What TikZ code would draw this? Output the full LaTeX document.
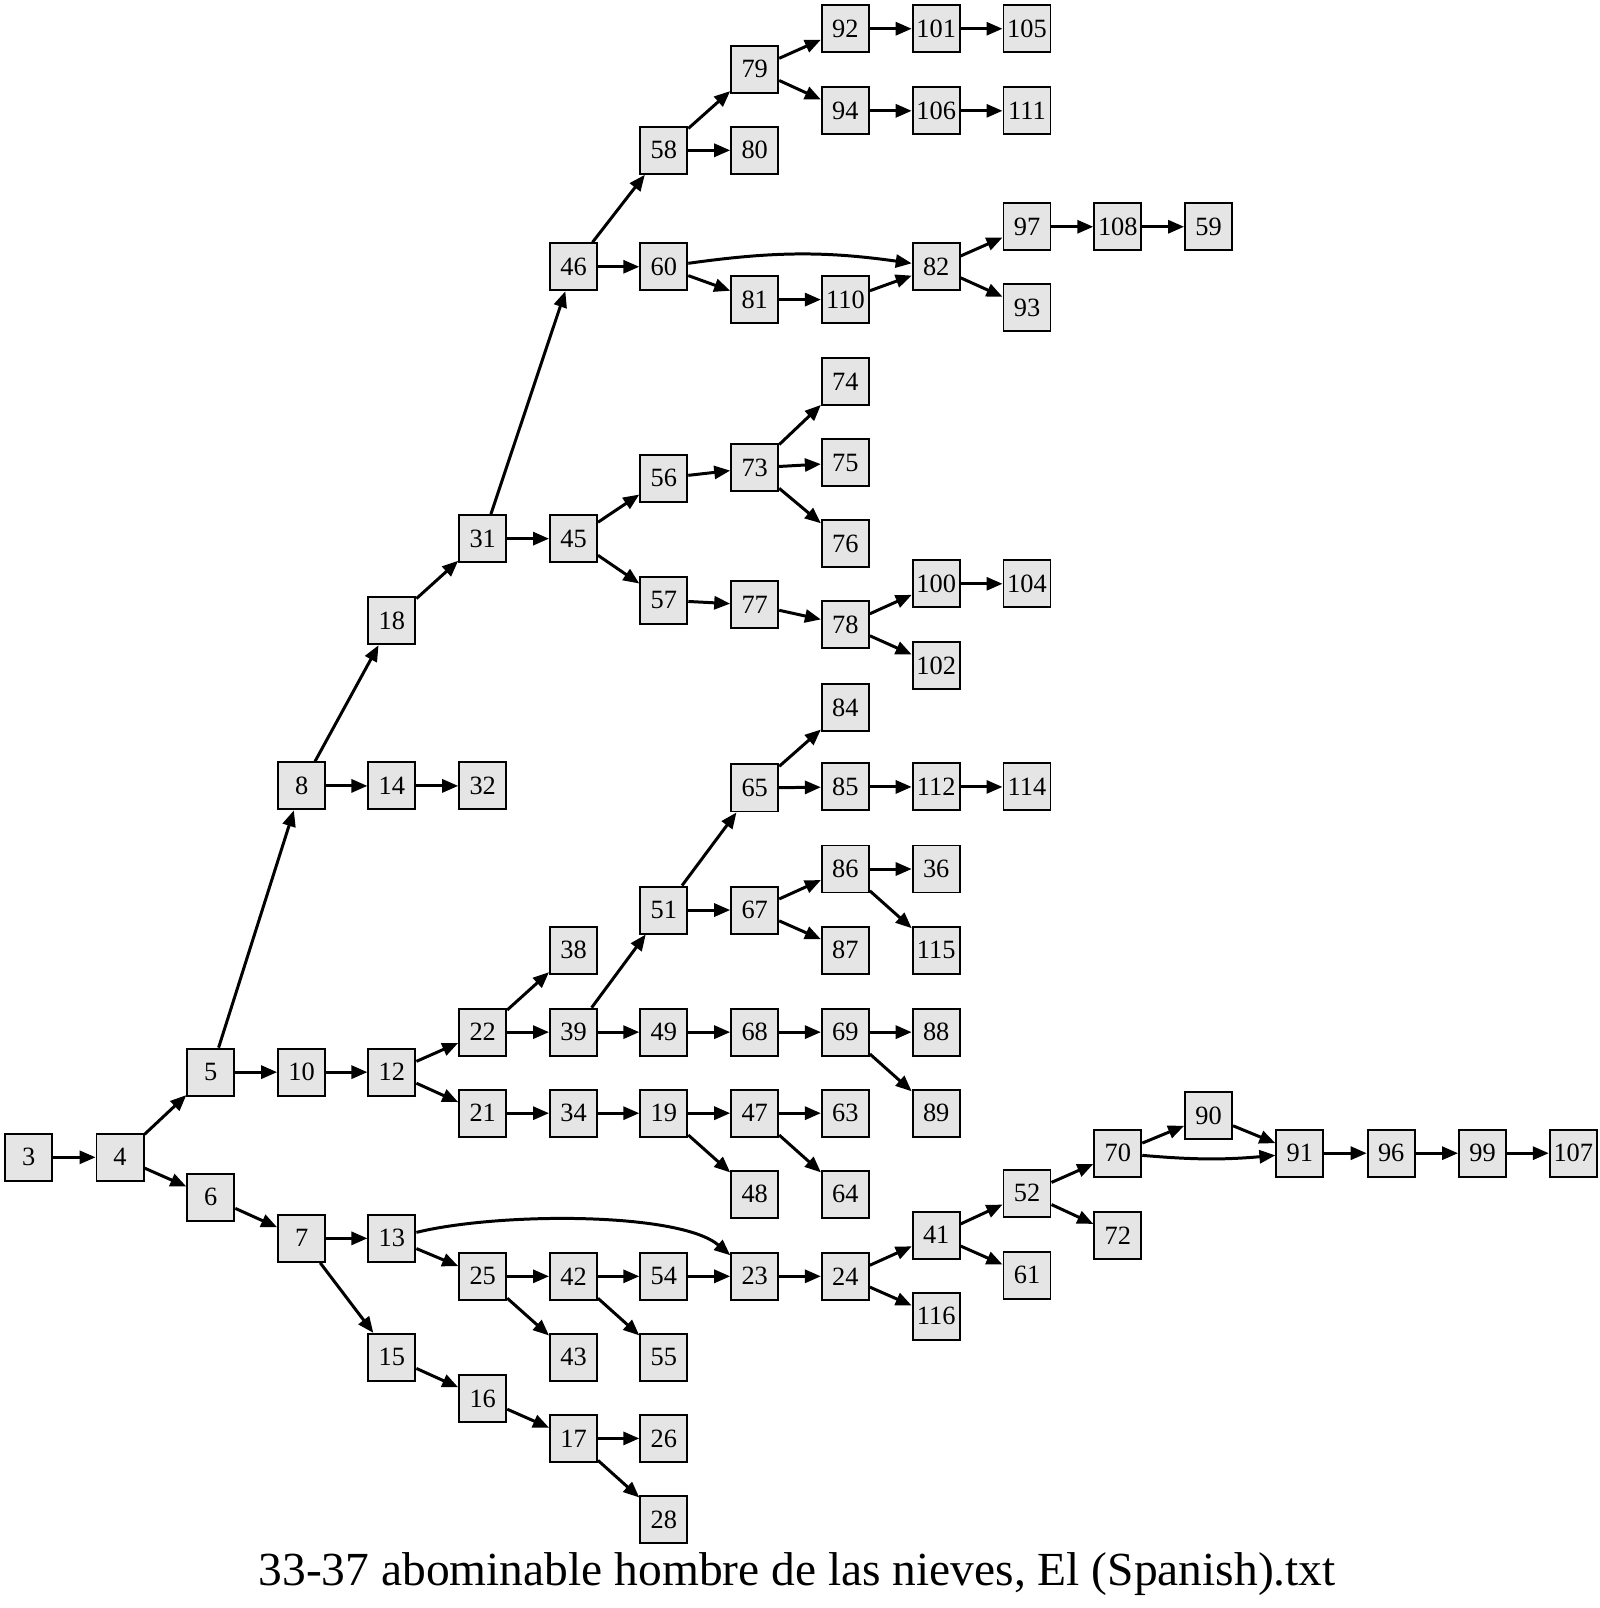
\documentclass[tikz,border=0pt]{standalone}
\usepackage{fontspec}
\setmainfont{Liberation Serif}
\usetikzlibrary{arrows.meta}
\tikzset{box/.style={rectangle, draw=black, fill=black!10, minimum size=0.47cm, inner sep=0pt, line width=0.55pt, font=\fontsize{7.5}{9}\selectfont}}

\begin{document}
\begin{tikzpicture}[x=0.01026cm, y=-0.01026cm, line width=0.85pt, >={Triangle[length=1.6mm,width=1.3mm]}]
      \useasboundingbox (0,0) rectangle (1559.5,1567.3);

      % left part
      \node[box] (n3) at (28,1128) {3};
      \node[box] (n4) at (117,1128) {4};
      \node[box] (n5) at (205.5,1045) {5};
      \node[box] (n6) at (205.5,1167) {6};
      \node[box] (n7) at (294,1207) {7};
      \node[box] (n8) at (294,766) {8};
      \node[box] (n10) at (294,1045) {10};
      \node[box] (n12) at (382,1045) {12};
      \node[box] (n13) at (382,1207) {13};
      \node[box] (n14) at (382,766) {14};
      \node[box] (n15) at (382,1323) {15};
      \node[box] (n18) at (382,605) {18};
      \node[box] (n16) at (470.5,1363) {16};
      \node[box] (n21) at (470.5,1085) {21};
      \node[box] (n22) at (470.5,1006) {22};
      \node[box] (n25) at (470.5,1244) {25};
      \node[box] (n31) at (470.5,525) {31};
      \node[box] (n32) at (470.5,766) {32};
      \node[box] (n17) at (559,1402) {17};
      \node[box] (n34) at (559,1085) {34};
      \node[box] (n38) at (559,926) {38};
      \node[box] (n39) at (559,1006) {39};
      \node[box] (n42) at (559,1244) {42};
      \node[box] (n43) at (559,1323) {43};
      \node[box] (n45) at (559,525) {45};
      \node[box] (n46) at (559,260) {46};

      % middle part
      \node[box] (n19) at (647,1085) {19};
      \node[box] (n26) at (647,1402) {26};
      \node[box] (n28) at (647,1481) {28};
      \node[box] (n49) at (647,1006) {49};
      \node[box] (n51) at (647,887) {51};
      \node[box] (n54) at (647,1244) {54};
      \node[box] (n55) at (647,1323) {55};
      \node[box] (n56) at (647,466) {56};
      \node[box] (n57) at (647,585) {57};
      \node[box] (n58) at (647,146.5) {58};
      \node[box] (n60) at (647,260) {60};
      \node[box] (n23) at (735.6,1244) {23};
      \node[box] (n47) at (735.6,1085) {47};
      \node[box] (n48) at (735.6,1164) {48};
      \node[box] (n65) at (735.6,768) {65};
      \node[box] (n67) at (735.6,887) {67};
      \node[box] (n68) at (735.6,1006) {68};
      \node[box] (n73) at (735.6,456) {73};
      \node[box] (n77) at (735.6,589.6) {77};
      \node[box] (n79) at (735.6,67.5) {79};
      \node[box] (n80) at (735.6,146.5) {80};
      \node[box] (n81) at (735.6,292) {81};
      \node[box] (n24) at (824,1244) {24};
      \node[box] (n63) at (824,1085) {63};
      \node[box] (n64) at (824,1164) {64};
      \node[box] (n69) at (824,1006) {69};
      \node[box] (n74) at (824,372) {74};
      \node[box] (n75) at (824,451) {75};
      \node[box] (n76) at (824,530) {76};
      \node[box] (n78) at (824,609) {78};
      \node[box] (n84) at (824,690) {84};
      \node[box] (n85) at (824,767) {85};
      \node[box] (n86) at (824,847) {86};
      \node[box] (n87) at (824,926) {87};
      \node[box] (n92) at (824,28) {92};
      \node[box] (n94) at (824,108) {94};
      \node[box] (n110) at (824,292) {110};

      % right part
      \node[box] (n36) at (912.5,847) {36};
      \node[box] (n41) at (912.5,1204) {41};
      \node[box] (n82) at (912.5,260) {82};
      \node[box] (n88) at (912.5,1006) {88};
      \node[box] (n89) at (912.5,1085) {89};
      \node[box] (n100) at (912.5,569) {100};
      \node[box] (n101) at (912.5,28) {101};
      \node[box] (n102) at (912.5,648.6) {102};
      \node[box] (n106) at (912.5,108) {106};
      \node[box] (n112) at (912.5,767) {112};
      \node[box] (n115) at (912.5,926) {115};
      \node[box] (n116) at (912.5,1283) {116};
      \node[box] (n52) at (1001,1163) {52};
      \node[box] (n61) at (1001,1243) {61};
      \node[box] (n93) at (1001,300) {93};
      \node[box] (n97) at (1001,221) {97};
      \node[box] (n104) at (1001,569) {104};
      \node[box] (n105) at (1001,28) {105};
      \node[box] (n111) at (1001,108) {111};
      \node[box] (n114) at (1001,767) {114};
      \node[box] (n70) at (1089.5,1124) {70};
      \node[box] (n72) at (1089.5,1204) {72};
      \node[box] (n108) at (1089.5,221) {108};
      \node[box] (n59) at (1178,221) {59};
      \node[box] (n90) at (1178,1087.5) {90};
      \node[box] (n91) at (1267,1124) {91};
      \node[box] (n96) at (1356,1124) {96};
      \node[box] (n99) at (1445,1124) {99};
      \node[box] (n107) at (1533.5,1124) {107};

      % edges
      \draw[->] (n3) -- (n4);
      \draw[->] (n4) -- (n5);
      \draw[->] (n4) -- (n6);
      \draw[->] (n5) -- (n8);
      \draw[->] (n5) -- (n10);
      \draw[->] (n6) -- (n7);
      \draw[->] (n7) -- (n13);
      \draw[->] (n7) -- (n15);
      \draw[->] (n8) -- (n18);
      \draw[->] (n8) -- (n14);
      \draw[->] (n14) -- (n32);
      \draw[->] (n18) -- (n31);
      \draw[->] (n31) -- (n46);
      \draw[->] (n31) -- (n45);
      \draw[->] (n46) -- (n58);
      \draw[->] (n46) -- (n60);
      \draw[->] (n58) -- (n79);
      \draw[->] (n58) -- (n80);
      \draw[->] (n79) -- (n92);
      \draw[->] (n79) -- (n94);
      \draw[->] (n92) -- (n101);
      \draw[->] (n101) -- (n105);
      \draw[->] (n94) -- (n106);
      \draw[->] (n106) -- (n111);
      \draw[->] (n60) to[bend left=8] (n82);
      \draw[->] (n60) -- (n81);
      \draw[->] (n81) -- (n110);
      \draw[->] (n110) -- (n82);
      \draw[->] (n82) -- (n97);
      \draw[->] (n82) -- (n93);
      \draw[->] (n97) -- (n108);
      \draw[->] (n108) -- (n59);
      \draw[->] (n45) -- (n56);
      \draw[->] (n45) -- (n57);
      \draw[->] (n56) -- (n73);
      \draw[->] (n73) -- (n74);
      \draw[->] (n73) -- (n75);
      \draw[->] (n73) -- (n76);
      \draw[->] (n57) -- (n77);
      \draw[->] (n77) -- (n78);
      \draw[->] (n78) -- (n100);
      \draw[->] (n78) -- (n102);
      \draw[->] (n100) -- (n104);
      \draw[->] (n10) -- (n12);
      \draw[->] (n12) -- (n22);
      \draw[->] (n12) -- (n21);
      \draw[->] (n22) -- (n38);
      \draw[->] (n22) -- (n39);
      \draw[->] (n39) -- (n51);
      \draw[->] (n39) -- (n49);
      \draw[->] (n51) -- (n65);
      \draw[->] (n51) -- (n67);
      \draw[->] (n65) -- (n84);
      \draw[->] (n65) -- (n85);
      \draw[->] (n85) -- (n112);
      \draw[->] (n112) -- (n114);
      \draw[->] (n67) -- (n86);
      \draw[->] (n67) -- (n87);
      \draw[->] (n86) -- (n36);
      \draw[->] (n86) -- (n115);
      \draw[->] (n49) -- (n68);
      \draw[->] (n68) -- (n69);
      \draw[->] (n69) -- (n88);
      \draw[->] (n69) -- (n89);
      \draw[->] (n21) -- (n34);
      \draw[->] (n34) -- (n19);
      \draw[->] (n19) -- (n47);
      \draw[->] (n19) -- (n48);
      \draw[->] (n47) -- (n63);
      \draw[->] (n47) -- (n64);
      \draw[->] (n13) .. controls (487.3,1181.3) and (662.8,1181.3) .. (n23);
      \draw[->] (n13) -- (n25);
      \draw[->] (n25) -- (n42);
      \draw[->] (n25) -- (n43);
      \draw[->] (n42) -- (n54);
      \draw[->] (n42) -- (n55);
      \draw[->] (n54) -- (n23);
      \draw[->] (n23) -- (n24);
      \draw[->] (n24) -- (n41);
      \draw[->] (n24) -- (n116);
      \draw[->] (n41) -- (n52);
      \draw[->] (n41) -- (n61);
      \draw[->] (n52) -- (n70);
      \draw[->] (n52) -- (n72);
      \draw[->] (n70) -- (n90);
      \draw[->] (n70) to[bend right=5] (n91);
      \draw[->] (n90) -- (n91);
      \draw[->] (n91) -- (n96);
      \draw[->] (n96) -- (n99);
      \draw[->] (n99) -- (n107);
      \draw[->] (n15) -- (n16);
      \draw[->] (n16) -- (n17);
      \draw[->] (n17) -- (n26);
      \draw[->] (n17) -- (n28);

      \node[anchor=base, font=\fontsize{13.5}{16}\selectfont] (title) at (777,1545) {33-37 abominable hombre de las nieves, El (Spanish).txt};
\end{tikzpicture}
\end{document}
